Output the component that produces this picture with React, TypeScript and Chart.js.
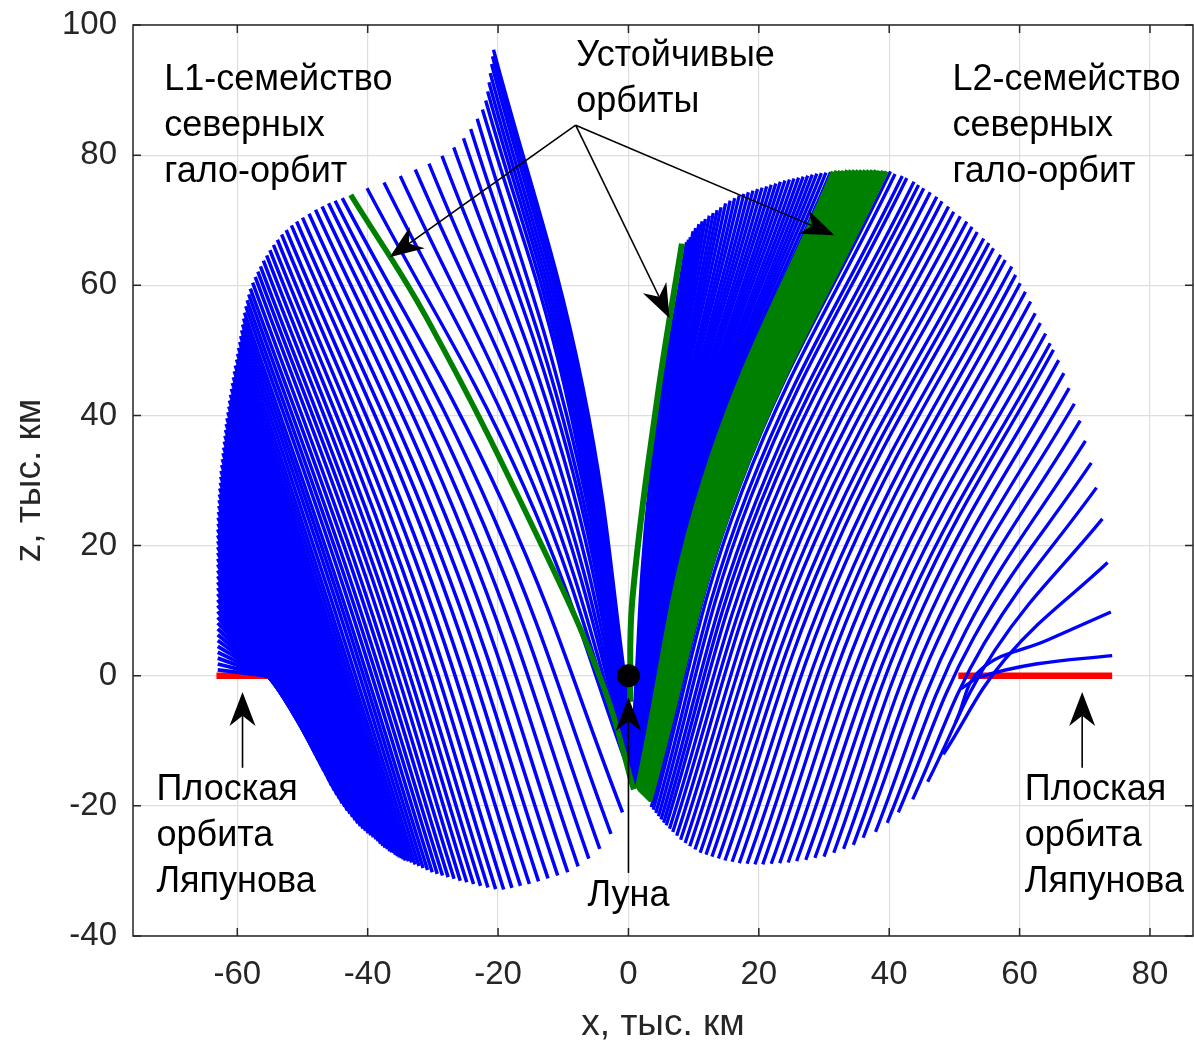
import React, { useEffect, useRef } from "react";
import { Chart, registerables } from "chart.js";

Chart.register(...registerables);

// ---------- axes ----------
const X_TICKS = [-60, -40, -20, 0, 20, 40, 60, 80];
const Z_TICKS = [-40, -20, 0, 20, 40, 60, 80, 100];
const X_MIN = -76;
const X_MAX = 86.6;
const Z_MIN = -40;
const Z_MAX = 100;
const X_TITLE = "x, тыс. км";
const Z_TITLE = "z, тыс. км";

// ---------- data (thousand km), each orbit = x,z pairs from top to bottom ----------
const L1_LYAPUNOV = [-63.2, 0, -54.6, 0];
const L2_LYAPUNOV = [50.6, 0, 74.2, 0];
const MOON = [0, 0];

// L1 halo family, orbits starting on the left edge (top x,z ; bottom x,z)
const L1_HALO_A: number[][] = [
  [-63.0, 0.9, -54.8, -0.1], [-63.0, 1.8, -54.5, -0.3], [-63.0, 2.7, -54.2, -0.5], [-63.0, 3.6, -53.9, -0.8],
  [-63.0, 4.5, -53.5, -1.2], [-63.0, 5.4, -53.1, -1.7], [-63.0, 6.3, -52.7, -2.3], [-63.0, 7.2, -52.3, -3.0],
  [-63.0, 8.1, -51.9, -3.7], [-63.0, 9.0, -51.5, -4.5], [-63.0, 9.9, -51.1, -5.4], [-63.0, 10.8, -50.7, -6.3],
  [-63.0, 11.7, -50.3, -7.2], [-63.0, 12.6, -49.9, -8.1], [-63.0, 13.5, -49.5, -9.0], [-63.0, 14.4, -49.1, -9.8],
  [-63.0, 15.3, -48.7, -10.6], [-63.0, 16.2, -48.3, -11.4], [-63.0, 17.1, -47.9, -12.2], [-63.0, 18.0, -47.5, -13.0],
  [-63.0, 18.9, -47.1, -13.8], [-63.0, 19.8, -46.7, -14.6], [-63.0, 20.7, -46.3, -15.3], [-63.0, 21.6, -45.9, -16.1],
  [-63.0, 22.5, -45.5, -16.9], [-62.95, 23.4, -45.1, -17.6], [-62.95, 24.3, -44.7, -18.3], [-62.9, 25.2, -44.3, -18.9],
  [-62.85, 26.1, -43.9, -19.6], [-62.8, 27.0, -43.5, -20.1], [-62.75, 27.9, -43.1, -20.7], [-62.7, 28.8, -42.7, -21.2],
  [-62.6, 29.7, -42.3, -21.7], [-62.55, 30.6, -41.9, -22.2], [-62.5, 31.5, -41.5, -22.7], [-62.4, 32.4, -41.1, -23.1],
  [-62.3, 33.3, -40.7, -23.5], [-62.2, 34.2, -40.3, -23.8], [-62.1, 35.1, -39.9, -24.2], [-62.0, 36.0, -39.5, -24.5],
  [-61.9, 36.9, -39.1, -24.8], [-61.8, 37.8, -38.7, -25.1], [-61.7, 38.7, -38.35, -25.4], [-61.6, 39.6, -38.0, -25.8],
  [-61.45, 40.5, -37.65, -26.1], [-61.3, 41.4, -37.3, -26.4], [-61.2, 42.3, -36.95, -26.6], [-61.05, 43.2, -36.6, -26.9],
  [-60.9, 44.1, -36.3, -27.1], [-60.75, 45.0, -36.0, -27.2], [-60.6, 45.9, -35.7, -27.5], [-60.45, 46.8, -35.4, -27.7],
  [-60.3, 47.7, -35.1, -27.9], [-60.1, 48.6, -34.8, -28.0], [-59.95, 49.5, -34.5, -28.2], [-59.8, 50.4, -34.2, -28.4],
];

// L1 halo family, orbits up to the stable one (top, middle, bottom)
const L1_HALO_B: number[][] = [
  [-59.65, 51.3, -46.6, 11.4, -33.75, -28.5], [-59.5, 52.2, -46.2, 11.75, -33.26, -28.7],
  [-59.35, 53.1, -45.7, 12.05, -32.72, -29.0], [-59.2, 54.0, -45.2, 12.4, -32.13, -29.25],
  [-59.05, 54.9, -44.7, 12.7, -31.5, -29.55], [-58.9, 55.8, -44.2, 12.95, -30.82, -29.85],
  [-58.7, 56.8, -43.6, 13.3, -30.1, -30.2], [-58.5, 57.7, -43.0, 13.6, -29.33, -30.45],
  [-58.25, 58.6, -42.4, 13.95, -28.52, -30.7], [-58.0, 59.5, -41.7, 14.3, -27.66, -30.95],
  [-57.65, 60.4, -41.0, 14.6, -26.75, -31.2], [-57.25, 61.3, -40.2, 14.9, -25.8, -31.5],
  [-56.85, 62.1, -39.4, 15.2, -24.8, -31.75], [-56.45, 62.9, -38.6, 15.45, -23.76, -32.0],
  [-56.0, 63.8, -37.7, 15.75, -22.68, -32.3], [-55.5, 64.6, -36.8, 16.0, -21.55, -32.55],
  [-55.0, 65.4, -35.8, 16.3, -20.37, -32.8], [-54.45, 66.2, -34.8, 16.7, -19.14, -32.85],
  [-53.85, 67.0, -33.8, 17.2, -17.87, -32.6], [-53.2, 67.8, -32.7, 17.75, -16.56, -32.3],
  [-52.5, 68.5, -31.6, 18.25, -15.2, -32.0], [-51.7, 69.2, -30.3, 18.8, -13.79, -31.6],
  [-50.9, 69.8, -29.1, 19.3, -12.34, -31.15], [-50.0, 70.4, -27.8, 19.85, -10.85, -30.7],
  [-49.0, 71.0, -26.4, 20.4, -9.31, -30.2], [-48.0, 71.6, -25.0, 21.15, -7.72, -29.3],
  [-47.0, 72.1, -23.6, 22.0, -6.08, -28.1], [-46.0, 72.6, -22.1, 23.0, -4.4, -26.6],
  [-45.0, 73.0, -20.7, 24.35, -2.68, -24.3], [-43.9, 73.4, -19.1, 26.2, -0.91, -21.0],
];

// L1 stable halo orbit
const L1_STABLE = [-42.6, 73.9, -30.8, 54.7, -13.0, 19.4, -3.7, -2.0, 0.8, -17.5];

// L1 halo family beyond the stable orbit
const L1_HALO_C: number[][] = [
  [-40.1, 74.9, -16.0, 29.0, 0.9, -17.0], [-37.5, 75.8, -14.7, 29.6, 0.9, -16.6],
  [-35.0, 76.8, -13.6, 30.3, 0.9, -16.2], [-32.7, 77.8, -12.5, 31.0, 0.9, -15.8],
  [-30.6, 78.7, -11.6, 31.7, 0.85, -15.4], [-28.6, 79.9, -10.7, 32.5, 0.8, -15.0],
  [-26.8, 81.2, -9.9, 33.3, 0.8, -14.6], [-25.3, 82.6, -9.3, 34.2, 0.75, -14.2],
  [-24.2, 84.0, -8.9, 35.1, 0.7, -13.8], [-23.2, 85.6, -8.5, 36.1, 0.7, -13.4],
];

// L1 near-rectilinear end of the family
const L1_HALO_D: number[][] = [
  [-22.4, 87.0, -9.8, 44.4, 0.6, -12.5], [-21.9, 88.4, -9.4, 44.4, 0.55, -11.8],
  [-21.6, 89.8, -9.0, 44.4, 0.5, -11.0], [-21.4, 91.2, -8.6, 44.4, 0.5, -10.2],
  [-21.2, 92.6, -8.2, 44.4, 0.45, -9.4], [-21.0, 94.0, -7.8, 44.4, 0.4, -8.6],
  [-20.85, 95.2, -7.4, 44.4, 0.4, -7.8], [-20.7, 96.2, -7.0, 44.4, 0.35, -7.0],
];

// L2 halo family, first orbits (right side)
const L2_HALO_A: number[][] = [
  [74.2, 3.1, 62.5, 1.8, 54.0, -0.2, 51.0, -2.0],
  [74.0, 9.8, 64.3, 5.5, 54.0, 0.9, 50.2, -7.1],
  [73.5, 17.4, 57.9, 2.7, 48.3, -12.1],
  [72.7, 24.1, 56.2, 3.9, 45.9, -16.3],
  [71.8, 28.9, 54.6, 5.0, 43.6, -19.0],
  [71.0, 32.7, 53.0, 5.9, 41.4, -21.0],
  [70.1, 36.1, 51.7, 6.8, 39.7, -22.6],
  [69.3, 39.2, 50.3, 7.6, 37.9, -24.0],
  [68.4, 41.8, 48.9, 8.5, 36.0, -24.9],
  [67.6, 44.2, 47.7, 9.1, 34.5, -26.0],
];

// L2 halo family, orbits up to the stable band
const L2_HALO_B: number[][] = [
  [66.8, 46.5, 46.5, 10.0, 33.0, -26.6], [66.0, 48.5, 45.3, 10.7, 31.5, -27.2],
  [65.2, 50.1, 44.1, 11.2, 30.0, -27.8], [64.7, 51.1, 43.1, 11.6, 28.6, -28.0],
  [64.0, 52.6, 42.0, 12.2, 27.2, -28.3], [63.2, 54.2, 40.9, 12.9, 25.8, -28.5],
  [62.4, 55.7, 39.8, 13.5, 24.5, -28.7], [61.7, 57.5, 38.7, 14.4, 23.2, -28.8],
  [60.9, 59.0, 37.6, 15.1, 21.9, -28.9], [60.1, 60.3, 36.5, 15.7, 20.6, -29.0],
  [59.4, 61.6, 35.5, 16.3, 19.4, -29.0], [58.8, 62.9, 34.6, 17.0, 18.2, -28.9],
  [57.8, 63.9, 33.4, 17.6, 17.0, -28.8], [57.1, 64.7, 32.5, 18.1, 15.9, -28.6],
  [56.0, 65.7, 31.3, 18.7, 14.8, -28.4], [55.3, 66.5, 30.4, 19.2, 13.8, -28.1],
  [54.5, 67.2, 29.5, 19.7, 12.8, -27.8], [53.5, 68.2, 28.5, 20.4, 11.9, -27.5],
  [52.7, 69.0, 27.6, 20.9, 11.0, -27.2], [51.9, 69.8, 26.7, 21.6, 10.2, -26.7],
  [50.9, 70.6, 25.8, 22.2, 9.4, -26.2], [49.9, 71.3, 24.9, 22.8, 8.7, -25.7],
  [49.1, 72.1, 24.1, 23.5, 8.0, -25.2], [48.1, 72.9, 23.2, 24.2, 7.4, -24.6],
  [47.3, 73.6, 22.5, 24.8, 6.8, -24.0], [46.3, 74.3, 21.7, 25.4, 6.3, -23.5],
  [45.3, 74.9, 20.9, 26.0, 5.8, -23.0], [44.5, 75.4, 20.2, 26.4, 5.4, -22.6],
  [43.8, 75.9, 19.6, 26.9, 5.0, -22.1], [42.7, 76.5, 18.8, 27.5, 4.6, -21.6],
  [42.0, 76.8, 18.2, 27.9, 4.2, -21.1], [40.9, 77.1, 17.4, 28.3, 3.8, -20.6],
  [40.2, 77.5, 16.9, 28.7, 3.5, -20.2],
];

// L2 stable band
const L2_STABLE_BAND: number[][] = [
  [39.6, 77.5, 16.8, 28.8, 3.3, -19.4], [39.05, 77.6, 16.45, 28.9, 3.15, -19.25],
  [38.5, 77.6, 16.1, 29.0, 3.0, -19.1], [37.95, 77.7, 15.75, 29.1, 2.85, -18.95],
  [37.4, 77.7, 15.4, 29.2, 2.7, -18.8], [36.85, 77.7, 15.05, 29.3, 2.55, -18.65],
  [36.3, 77.7, 14.7, 29.4, 2.4, -18.5], [35.75, 77.7, 14.35, 29.5, 2.25, -18.35],
  [35.2, 77.7, 14.0, 29.6, 2.1, -18.2], [34.65, 77.7, 13.65, 29.7, 1.95, -18.05],
  [34.1, 77.7, 13.3, 29.8, 1.8, -17.9], [33.55, 77.7, 12.95, 29.9, 1.7, -17.75],
  [33.0, 77.6, 12.6, 30.0, 1.6, -17.6], [32.45, 77.6, 12.25, 30.1, 1.5, -17.45],
  [31.9, 77.6, 11.9, 30.2, 1.4, -17.3], [31.35, 77.5, 11.6, 30.3, 1.3, -17.2],
];

// L2 halo family beyond the stable band
const L2_HALO_C: number[][] = [
  [31.0, 77.4, 11.3, 30, 1.2, -17.0], [30.3, 77.3, 11.1, 30, 1.18, -16.9],
  [29.6, 77.25, 10.8, 30, 1.16, -16.7], [28.9, 77.15, 10.6, 30, 1.14, -16.6],
  [28.2, 77.0, 10.4, 30, 1.12, -16.5], [27.5, 76.85, 10.2, 30, 1.1, -16.4],
  [26.8, 76.7, 9.9, 30, 1.08, -16.2], [26.1, 76.55, 9.7, 30, 1.06, -16.1],
  [25.4, 76.4, 9.5, 30, 1.04, -16.0], [24.7, 76.25, 9.2, 30, 1.02, -15.8],
  [24.0, 76.1, 9.0, 30, 1.0, -15.7], [23.3, 75.9, 8.8, 30, 0.98, -15.6],
  [22.6, 75.65, 8.6, 30, 0.96, -15.5], [21.9, 75.45, 8.3, 30, 0.94, -15.3],
  [21.2, 75.2, 8.1, 30, 0.92, -15.2], [20.5, 75.0, 7.9, 30, 0.9, -15.1],
  [19.8, 74.8, 7.6, 30, 0.88, -14.9], [19.1, 74.55, 7.4, 30, 0.86, -14.8],
  [18.4, 74.3, 7.2, 30, 0.84, -14.7], [17.7, 74.05, 7.0, 30, 0.82, -14.6],
  [17.0, 73.8, 6.7, 30, 0.8, -14.4], [16.3, 73.4, 6.5, 30, 0.78, -14.3],
  [15.6, 73.0, 6.3, 30, 0.76, -14.2], [14.9, 72.6, 6.0, 30, 0.74, -14.0],
  [14.2, 72.0, 5.8, 30, 0.72, -13.9], [13.6, 71.55, 5.6, 30, 0.7, -13.8],
  [13.0, 71.1, 5.4, 30, 0.68, -13.7], [12.4, 70.7, 5.1, 30, 0.66, -13.5],
  [11.8, 70.2, 4.9, 30, 0.64, -13.4], [11.3, 69.85, 4.7, 30, 0.62, -13.3],
  [10.8, 69.4, 4.4, 30, 0.6, -13.1], [10.3, 68.8, 4.2, 30, 0.58, -13.0],
  [9.9, 68.3, 4.0, 30, 0.56, -12.9], [9.5, 67.4, 3.8, 30, 0.54, -12.8],
  [9.2, 67.0, 3.5, 30, 0.52, -12.6], [8.9, 66.6, 3.3, 30, 0.5, -12.5],
];

// L2 stable thin orbit
const L2_STABLE_THIN = [8.2, 66.4, 4.4, 42.4, 0.6, 11.7, 0.25, -4.0];

// ---------- annotations (anchor in data units) ----------
const NOTES = [
  { lines: ["L1-семейство", "северных", "гало-орбит"], x: -71.2, z: 90.0, align: "left" },
  { lines: ["Устойчивые", "орбиты"], x: -8.0, z: 93.7, align: "left" },
  { lines: ["L2-семейство", "северных", "гало-орбит"], x: 49.7, z: 90.0, align: "left" },
  { lines: ["Плоская", "орбита", "Ляпунова"], x: -72.4, z: -19.1, align: "left" },
  { lines: ["Плоская", "орбита", "Ляпунова"], x: 60.8, z: -19.1, align: "left" },
  { lines: ["Луна"], x: 0, z: -35.4, align: "center" },
];

const ARROWS = [
  { from: [-8.1, 84.6], to: [-36.65, 64.3] },
  { from: [-8.1, 84.6], to: [6.3, 54.95] },
  { from: [-8.1, 84.6], to: [31.6, 67.7] },
  { from: [-59.2, -14.15], to: [-59.2, -2.5] },
  { from: [69.6, -14.15], to: [69.6, -2.5] },
  { from: [0, -30.3], to: [0, -3.3] },
];

// ---------- styles ----------
const BLUE = "#0000ff";
const GREEN = "#008000";
const RED = "#ff0000";
const AXIS = "#262626";
const GRID = "#dedede";
const FONT = "'Liberation Sans', Arial, Helvetica, sans-serif";
const TICK_SIZE = 33;
const TITLE_SIZE = 37;
const NOTE_SIZE = 36;
const NOTE_LEAD = 46;

function toPoints(flat: number[]) {
  const p: { x: number; y: number }[] = [];
  for (let i = 0; i + 1 < flat.length; i += 2) p.push({ x: flat[i], y: flat[i + 1] });
  return p;
}

function lineSet(flat: number[], color: string, width: number) {
  return {
    data: toPoints(flat),
    showLine: true,
    borderColor: color,
    backgroundColor: color,
    borderWidth: width,
    pointRadius: 0,
    pointHoverRadius: 0,
    tension: 0.4,
    fill: false,
    borderCapStyle: "butt",
    borderJoinStyle: "round",
  };
}

function drawArrow(ctx: CanvasRenderingContext2D, x0: number, y0: number, x1: number, y1: number) {
  const dx = x1 - x0, dy = y1 - y0;
  const len = Math.hypot(dx, dy) || 1;
  const ux = dx / len, uy = dy / len;
  const px = -uy, py = ux;
  const L = 34, W = 13, N = 0.7 * L;
  ctx.beginPath();
  ctx.moveTo(x0, y0);
  ctx.lineTo(x1 - ux * N, y1 - uy * N);
  ctx.stroke();
  ctx.beginPath();
  ctx.moveTo(x1, y1);
  ctx.lineTo(x1 - ux * L + px * W, y1 - uy * L + py * W);
  ctx.lineTo(x1 - ux * N, y1 - uy * N);
  ctx.lineTo(x1 - ux * L - px * W, y1 - uy * L - py * W);
  ctx.closePath();
  ctx.fill();
}

const overlayPlugin = {
  id: "overlay",
  afterDraw(chart: any) {
    const { ctx, chartArea: a } = chart;
    const xs = chart.scales.x, ys = chart.scales.y;
    ctx.save();
    // arrows
    ctx.strokeStyle = "#000";
    ctx.fillStyle = "#000";
    ctx.lineWidth = 1.6;
    ARROWS.forEach((ar) => {
      drawArrow(
        ctx,
        xs.getPixelForValue(ar.from[0]), ys.getPixelForValue(ar.from[1]),
        xs.getPixelForValue(ar.to[0]), ys.getPixelForValue(ar.to[1])
      );
    });
    // notes
    ctx.font = `${NOTE_SIZE}px ${FONT}`;
    ctx.textBaseline = "alphabetic";
    ctx.fillStyle = "#000";
    NOTES.forEach((n) => {
      ctx.textAlign = n.align as CanvasTextAlign;
      const px = xs.getPixelForValue(n.x);
      const py = ys.getPixelForValue(n.z);
      n.lines.forEach((t, i) => ctx.fillText(t, px, py + i * NOTE_LEAD));
    });
    // frame with inward ticks
    ctx.strokeStyle = AXIS;
    ctx.lineWidth = 1.5;
    ctx.strokeRect(a.left, a.top, a.right - a.left, a.bottom - a.top);
    const T = 8;
    ctx.beginPath();
    X_TICKS.forEach((v) => {
      const p = xs.getPixelForValue(v);
      ctx.moveTo(p, a.bottom); ctx.lineTo(p, a.bottom - T);
      ctx.moveTo(p, a.top); ctx.lineTo(p, a.top + T);
    });
    Z_TICKS.forEach((v) => {
      const p = ys.getPixelForValue(v);
      ctx.moveTo(a.left, p); ctx.lineTo(a.left + T, p);
      ctx.moveTo(a.right, p); ctx.lineTo(a.right - T, p);
    });
    ctx.stroke();
    // tick labels
    ctx.fillStyle = AXIS;
    ctx.font = `${TICK_SIZE}px ${FONT}`;
    ctx.textBaseline = "middle";
    ctx.textAlign = "center";
    X_TICKS.forEach((v) => ctx.fillText(String(v), xs.getPixelForValue(v), a.bottom + 39));
    ctx.textAlign = "right";
    Z_TICKS.forEach((v) => ctx.fillText(String(v), a.left - 16, ys.getPixelForValue(v)));
    // axis titles
    ctx.font = `${TITLE_SIZE}px ${FONT}`;
    ctx.textAlign = "center";
    ctx.fillText(X_TITLE, (a.left + a.right) / 2, a.bottom + 89);
    ctx.translate(30, (a.top + a.bottom) / 2);
    ctx.rotate(-Math.PI / 2);
    ctx.fillText(Z_TITLE, 0, 0);
    ctx.restore();
  },
};

export default function App() {
  const ref = useRef<HTMLCanvasElement | null>(null);
  useEffect(() => {
    document.body.style.margin = "0";
    const canvas = ref.current;
    if (!canvas) return;

    const layers: any[] = []; // bottom → top
    layers.push(lineSet(L1_LYAPUNOV, RED, 6.5));
    layers.push(lineSet(L2_LYAPUNOV, RED, 6.5));
    L1_HALO_A.forEach((o) => layers.push(lineSet(o, BLUE, 3.8)));
    L1_HALO_B.forEach((o) => layers.push(lineSet(o, BLUE, 3.5)));
    L1_HALO_C.forEach((o) => layers.push(lineSet(o, BLUE, 3.4)));
    L1_HALO_D.forEach((o) => layers.push(lineSet(o, BLUE, 3.4)));
    L2_HALO_A.forEach((o) => layers.push(lineSet(o, BLUE, 3.3)));
    L2_HALO_B.forEach((o) => layers.push(lineSet(o, BLUE, 3.3)));
    L2_HALO_C.forEach((o) => layers.push(lineSet(o, BLUE, 3.3)));
    L2_STABLE_BAND.forEach((o) => layers.push(lineSet(o, GREEN, 4)));
    layers.push(lineSet(L1_STABLE, GREEN, 5.5));
    layers.push(lineSet(L2_STABLE_THIN, GREEN, 6));
    layers.push({
      data: toPoints(MOON),
      showLine: false,
      pointRadius: 11.5,
      pointHoverRadius: 11.5,
      pointBackgroundColor: "#000",
      pointBorderColor: "#000",
      pointBorderWidth: 0,
    });
    const datasets = layers.slice().reverse(); // index 0 is drawn on top

    const chart = new Chart(canvas, {
      type: "scatter",
      data: { datasets },
      options: {
        animation: false,
        responsive: false,
        maintainAspectRatio: false,
        events: [],
        layout: { autoPadding: false, padding: { top: 25, right: 1, left: 0, bottom: 0 } },
        plugins: { legend: { display: false }, tooltip: { enabled: false }, title: { display: false } },
        scales: {
          x: {
            type: "linear",
            min: X_MIN,
            max: X_MAX,
            afterBuildTicks: (s: any) => { s.ticks = X_TICKS.map((v) => ({ value: v })); },
            afterFit: (s: any) => { s.height = 110; },
            grid: { color: GRID, lineWidth: 1.2, drawTicks: false },
            border: { display: false },
            ticks: { display: false },
          },
          y: {
            type: "linear",
            min: Z_MIN,
            max: Z_MAX,
            afterBuildTicks: (s: any) => { s.ticks = Z_TICKS.map((v) => ({ value: v })); },
            afterFit: (s: any) => { s.width = 133; },
            grid: { color: GRID, lineWidth: 1.2, drawTicks: false },
            border: { display: false },
            ticks: { display: false },
          },
        },
      } as any,
      plugins: [overlayPlugin],
    });
    return () => chart.destroy();
  }, []);

  return (
    <div style={{ width: 1194, height: 1046, position: "relative", background: "#fff" }}>
      <canvas ref={ref} width={1194} height={1046} style={{ display: "block", width: 1194, height: 1046 }} />
    </div>
  );
}
